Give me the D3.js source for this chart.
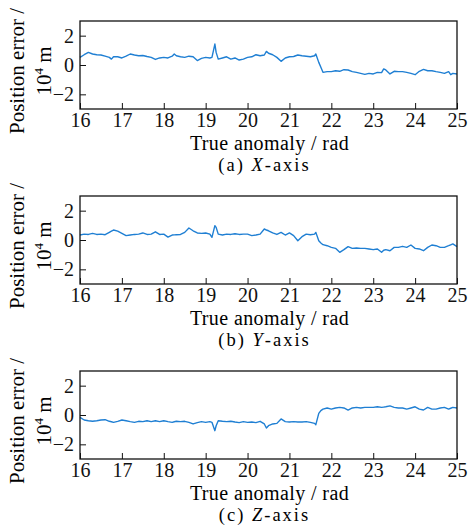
<!DOCTYPE html>
<html>
<head>
<meta charset="utf-8">
<script src="https://d3js.org/d3.v7.min.js"></script>
<style>
  body { margin: 0; background: #fff; }
  .axis path, .axis line { stroke: #111; }
</style>
</head>
<body>
<svg id="chart" width="471" height="525"></svg>
<script>
// rad values (shared x grid with a few extra points at spikes / jumps)
const xAnom = [16.0, 16.1, 16.2, 16.3, 16.4, 16.5, 16.6, 16.7, 16.75, 16.8, 16.9,
  17.0, 17.1, 17.2, 17.3, 17.4, 17.5, 17.6, 17.7, 17.8, 17.9,
  18.0, 18.1, 18.2, 18.25, 18.3, 18.4, 18.5, 18.6, 18.7, 18.8, 18.9,
  19.0, 19.1, 19.15, 19.22, 19.25, 19.3, 19.4, 19.5, 19.6, 19.7, 19.8, 19.9,
  20.0, 20.1, 20.2, 20.3, 20.4, 20.45, 20.5, 20.6, 20.7, 20.8, 20.9,
  21.0, 21.1, 21.2, 21.3, 21.4, 21.5, 21.6, 21.63, 21.7, 21.75, 21.8, 21.9,
  22.0, 22.1, 22.2, 22.3, 22.4, 22.5, 22.6, 22.7, 22.8, 22.9,
  23.0, 23.1, 23.2, 23.25, 23.3, 23.4, 23.5, 23.6, 23.7, 23.8, 23.9,
  24.0, 24.1, 24.2, 24.3, 24.4, 24.5, 24.6, 24.7, 24.8, 24.85, 24.9, 25.0];

const errX = [0.52, 0.70, 0.86, 0.75, 0.70, 0.68, 0.60, 0.52, 0.40, 0.56, 0.56,
  0.48, 0.60, 0.75, 0.68, 0.63, 0.65, 0.58, 0.52, 0.38, 0.48,
  0.52, 0.48, 0.60, 0.75, 0.63, 0.56, 0.52, 0.60, 0.56, 0.30, 0.45,
  0.52, 0.48, 0.52, 1.43, 0.86, 0.40, 0.48, 0.56, 0.40, 0.48, 0.34, 0.40,
  0.52, 0.56, 0.70, 0.63, 0.68, 0.93, 0.80, 0.70, 0.52, 0.25, 0.48,
  0.56, 0.58, 0.68, 0.63, 0.60, 0.56, 0.63, 0.75, 0.18, -0.16, -0.50, -0.45,
  -0.45, -0.39, -0.43, -0.32, -0.34, -0.45, -0.50, -0.57, -0.64, -0.57,
  -0.61, -0.50, -0.52, -0.27, -0.34, -0.61, -0.43, -0.45, -0.45, -0.50, -0.57,
  -0.66, -0.43, -0.30, -0.39, -0.39, -0.45, -0.50, -0.57, -0.45, -0.66, -0.57, -0.61];

const errY = [0.34, 0.40, 0.38, 0.45, 0.38, 0.40, 0.36, 0.52, 0.60, 0.68, 0.60,
  0.45, 0.30, 0.34, 0.38, 0.40, 0.48, 0.38, 0.40, 0.56, 0.38,
  0.40, 0.20, 0.34, 0.35, 0.36, 0.38, 0.52, 0.82, 0.63, 0.48, 0.45,
  0.48, 0.40, 0.18, 0.98, 0.86, 0.40, 0.34, 0.40, 0.38, 0.43, 0.38, 0.40,
  0.40, 0.30, 0.34, 0.40, 0.75, 0.68, 0.63, 0.48, 0.38, 0.52, 0.34,
  0.48, 0.30, -0.05, 0.23, 0.40, 0.36, 0.40, 0.52, -0.05, -0.20, -0.32, -0.39,
  -0.50, -0.57, -0.84, -0.66, -0.45, -0.57, -0.55, -0.57, -0.57, -0.61,
  -0.66, -0.61, -0.84, -0.70, -0.66, -0.73, -0.50, -0.50, -0.43, -0.50, -0.34,
  -0.57, -0.61, -0.73, -0.50, -0.34, -0.39, -0.50, -0.50, -0.39, -0.33, -0.27, -0.45];

const errZ = [-0.16, -0.34, -0.39, -0.43, -0.39, -0.34, -0.32, -0.43, -0.46, -0.50, -0.43,
  -0.34, -0.39, -0.45, -0.50, -0.43, -0.45, -0.39, -0.45, -0.39, -0.45,
  -0.39, -0.45, -0.50, -0.46, -0.43, -0.45, -0.43, -0.50, -0.61, -0.52, -0.45,
  -0.50, -0.45, -0.50, -1.07, -0.73, -0.39, -0.43, -0.45, -0.43, -0.48, -0.52, -0.45,
  -0.50, -0.48, -0.52, -0.43, -0.61, -0.89, -0.73, -0.61, -0.57, -0.27, -0.45,
  -0.48, -0.45, -0.48, -0.48, -0.45, -0.50, -0.57, -0.66, 0.11, 0.30, 0.40, 0.48,
  0.40, 0.48, 0.52, 0.48, 0.34, 0.48, 0.52, 0.48, 0.52, 0.52,
  0.52, 0.56, 0.52, 0.54, 0.56, 0.62, 0.52, 0.48, 0.48, 0.40, 0.48,
  0.56, 0.40, 0.34, 0.52, 0.40, 0.40, 0.48, 0.52, 0.40, 0.46, 0.52, 0.48];

const xTicks = [16, 17, 18, 19, 20, 21, 22, 23, 24, 25];
const yTicks = [-2, 0, 2];
const panels = [
  {tag: "(a) ", axis: "X", values: errX},
  {tag: "(b) ", axis: "Y", values: errY},
  {tag: "(c) ", axis: "Z", values: errZ}
];

const serif = "'Liberation Serif', 'Times New Roman', Times, serif";
const svg = d3.select("svg#chart")
  .style("font-family", serif);
const margin = {top: 21, left: 80};
const plotW = 377, plotH = 88, step = 175;

const xScale = d3.scaleLinear().domain([16, 25]).range([0, plotW]);
const yScale = d3.scaleLinear().domain([-3, 3]).range([plotH, 0]);

panels.forEach((p, i) => {
  let g = svg.append("g")
    .attr("transform", "translate(" + margin.left + "," + (margin.top + i * step) + ")");

  let line = d3.line().x((d, j) => xScale(xAnom[j])).y(d => yScale(d));
  g.append("path")
    .datum(p.values)
    .attr("d", line)
    .attr("fill", "none")
    .attr("stroke", "#1f7fd3")
    .attr("stroke-width", 1.4)
    .attr("stroke-linejoin", "round");

  g.append("g").attr("class", "axis")
    .attr("transform", "translate(0," + plotH + ")")
    .call(d3.axisBottom(xScale).tickValues(xTicks).tickSize(-6).tickPadding(4).tickSizeOuter(0))
    .call(a => a.select(".domain").remove())
    .call(a => a.attr("font-family", null).attr("font-size", null))
    .call(a => a.selectAll("text").style("font-size", "20px").style("font-family", serif).attr("fill", "#111"));

  g.append("g").attr("class", "axis")
    .call(d3.axisLeft(yScale).tickValues(yTicks).tickSize(-6).tickPadding(6)
      .tickFormat(d => d < 0 ? "\u2212" + Math.abs(d) : d))
    .call(a => a.select(".domain").remove())
    .call(a => a.attr("font-family", null).attr("font-size", null))
    .call(a => a.selectAll("text").style("font-size", "20px").style("font-family", serif).attr("fill", "#111"));

  g.append("rect")
    .attr("width", plotW).attr("height", plotH)
    .attr("fill", "none").attr("stroke", "#111").attr("stroke-width", 1.3);

  g.append("text")
    .attr("x", plotW / 2 + 1).attr("y", plotH + 40.5)
    .attr("text-anchor", "middle").style("font-size", "20px").style("font-family", serif)
    .style("letter-spacing", "0.4px")
    .text("True anomaly / rad");

  let cap = g.append("text")
    .attr("x", plotW / 2 - 4).attr("y", plotH + 61.5)
    .attr("text-anchor", "middle").style("font-size", "18.5px").style("font-family", serif)
    .style("letter-spacing", "2px");
  cap.append("tspan").text(p.tag);
  cap.append("tspan").style("font-style", "italic").text(p.axis);
  cap.append("tspan").text("-axis");

  let yl = g.append("text")
    .attr("transform", "translate(-56," + (plotH / 2 + 6) + ") rotate(-90)")
    .attr("text-anchor", "middle").style("font-size", "21px").style("font-family", serif);
  yl.append("tspan").attr("x", 0).attr("y", 0).text("Position error /");
  let l2 = yl.append("tspan").attr("x", 0).attr("y", 27);
  l2.append("tspan").text("10");
  l2.append("tspan").attr("dy", -8).style("font-size", "13px").text("4");
  l2.append("tspan").attr("dy", 8).text(" m");
});
</script>
</body>
</html>
